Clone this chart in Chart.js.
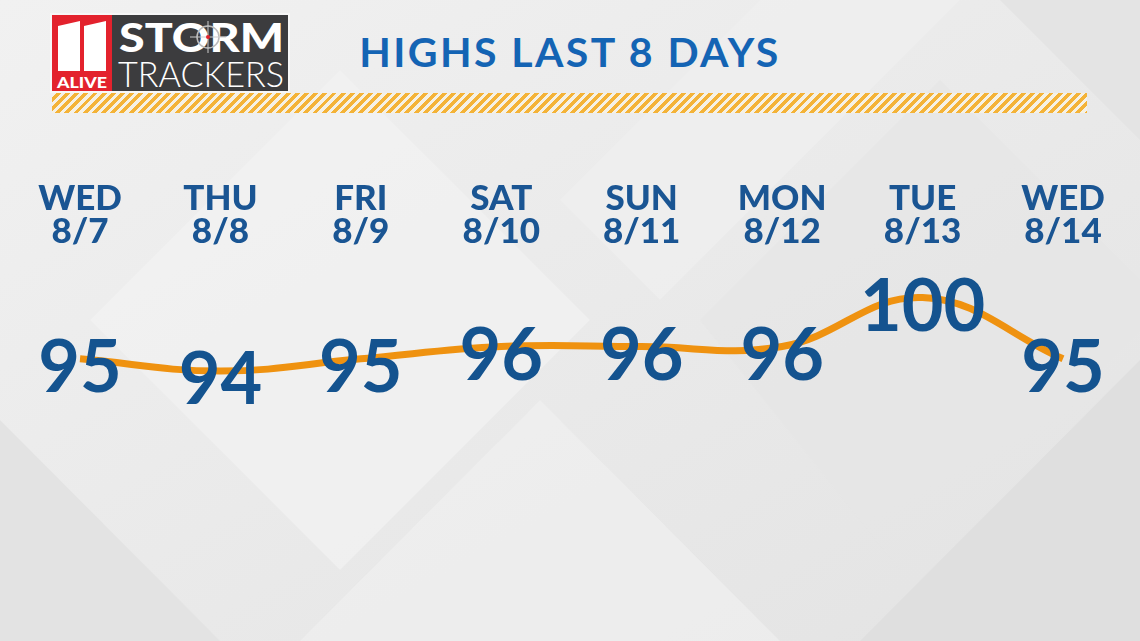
<!DOCTYPE html>
<html>
<head>
<meta charset="utf-8">
<script src="https://cdn.jsdelivr.net/npm/chart.js@4/dist/chart.umd.min.js"></script>
<style>
  html, body { margin: 0; padding: 0; }
  body { width: 1140px; height: 641px; position: relative; overflow: hidden; background: #ebebeb; font-family: Lato, sans-serif; }
  #bg { position: absolute; left: 0; top: 0; }
  #logo { position: absolute; left: 50px; top: 13px; }
  #title { position: absolute; left: 0; width: 1140px; top: 27px; text-align: center; font: 700 41px Lato, sans-serif; color: #1464b4; letter-spacing: 2.4px; }
  #stripe { position: absolute; left: 52px; top: 93px; width: 1035px; height: 20px;
    background: repeating-linear-gradient(135deg, #f5f1e6 0px, #f5f1e6 3px, #f4b338 3px, #f4b338 6.5px); }
  #wrap { position: absolute; left: 0; top: 0; width: 1140px; height: 641px; }
</style>
</head>
<body>
<svg id="bg" width="1140" height="641">
  <defs>
    <linearGradient id="g0" x1="0" y1="0" x2="1" y2="1">
      <stop offset="0" stop-color="#f1f1f1"/>
      <stop offset="1" stop-color="#e3e3e3"/>
    </linearGradient>
  </defs>
  <rect width="1140" height="641" fill="url(#g0)"/>
  <polygon points="90,320 340,70 590,320 340,570" fill="#f2f2f2" opacity="0.7"/>
  <polygon points="0,420 220,641 0,641" fill="#e3e3e3"/>
  <polygon points="560,200 760,0 960,0 660,300" fill="#f0f0f0" opacity="0.6"/>
  <polygon points="860,641 1140,360 1140,641" fill="#dfdfdf"/>
  <polygon points="700,320 940,80 1140,280 1140,330 900,570" fill="#e6e6e6" opacity="0.7"/>
  <polygon points="1000,0 1140,0 1140,140" fill="#e4e4e4"/>
  <polygon points="300,641 540,400 780,641" fill="#efefef" opacity="0.7"/>
</svg>

<svg id="logo" width="240" height="80">
  <rect x="0" y="0" width="240" height="80" fill="#f7f7f7"/>
  <rect x="2" y="2" width="60" height="76" fill="#e3222d"/>
  <rect x="62" y="2" width="176" height="76" fill="#3c3c3e"/>
  <polygon points="8,13 30,8 30,58 8,58" fill="#fff"/>
  <polygon points="34,13 56,8 56,58 34,58" fill="#fff"/>
  <text x="32" y="75" text-anchor="middle" font-family="Lato" font-weight="900" font-size="15" fill="#fff" textLength="50" lengthAdjust="spacingAndGlyphs">ALIVE</text>
  <text x="69" y="39" font-family="Lato" font-weight="900" font-size="40" fill="#fff" textLength="165" lengthAdjust="spacingAndGlyphs">STORM</text>
  <circle cx="158" cy="24" r="11" fill="none" stroke="#bbb" stroke-width="1.5"/>
  <line x1="140" y1="24" x2="176" y2="24" stroke="#ccc" stroke-width="1"/>
  <line x1="158" y1="8" x2="158" y2="40" stroke="#ccc" stroke-width="1"/>
  <circle cx="158" cy="24" r="2" fill="#e3222d"/>
  <text x="68" y="74" font-family="Lato" font-weight="300" font-size="36" fill="#fff" textLength="166" lengthAdjust="spacingAndGlyphs">TRACKERS</text>
</svg>

<div id="title">HIGHS LAST 8 DAYS</div>
<div id="stripe"></div>

<div id="wrap"><canvas id="chart" width="1140" height="641"></canvas></div>

<script>
const days = ["WED", "THU", "FRI", "SAT", "SUN", "MON", "TUE", "WED"]
const dates = ["8/7", "8/8", "8/9", "8/10", "8/11", "8/12", "8/13", "8/14"]
const highs = [95, 94, 95, 96, 96, 96, 100, 95]

const labels = days.map((d, i) => [d, dates[i]])

// draws each high value on top of the line
const valueLabels = {
  id: "valueLabels",
  afterDatasetsDraw(chart) {
    const ctx = chart.ctx
    const meta = chart.getDatasetMeta(0)
    ctx.save()
    ctx.font = "700 72px Lato"
    ctx.fillStyle = "#14538f"
    ctx.textAlign = "center"
    ctx.textBaseline = "alphabetic"
    meta.data.forEach((pt, i) => {
      ctx.fillText(String(highs[i]), pt.x, pt.y + 33)
    })
    ctx.restore()
  }
}

const chart = new Chart("chart", {
  type: "line",
  data: {
    labels: labels,
    datasets: [{
      data: highs,
      borderColor: "#ef9210",
      borderWidth: 7,
      tension: 0.4,
      pointRadius: 0,
      fill: false,
      clip: false
    }]
  },
  options: {
    responsive: false,
    animation: false,
    layout: {padding: {left: 80, right: 77, top: 182, bottom: 37}},
    plugins: {
      legend: {display: false},
      tooltip: {enabled: false},
    },
    scales: {
      x: {
        position: "top",
        offset: false,
        grid: {display: false, drawTicks: false},
        border: {display: false},
        ticks: {
          color: "#1a5593",
          font: {family: "Lato", weight: "900", size: 35, lineHeight: 0.95},
          padding: 0,
          maxRotation: 0,
          autoSkip: false
        }
      },
      y: {display: false, min: 75, max: 104}
    },
  },
  plugins: [valueLabels]
})
</script>
</body>
</html>
